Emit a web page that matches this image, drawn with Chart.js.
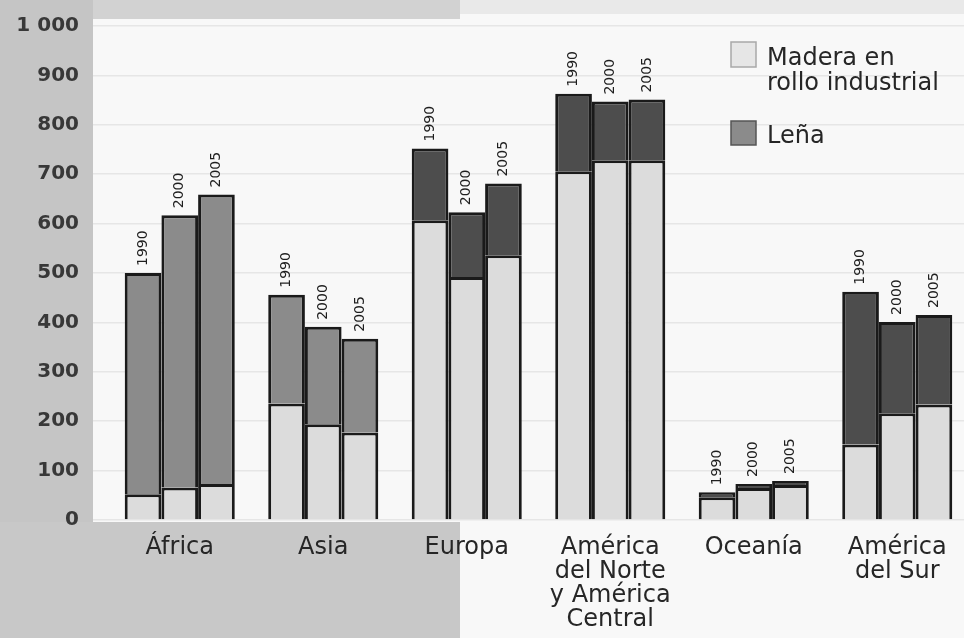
<!DOCTYPE html>
<html>
<head>
<meta charset="utf-8">
<title>Producción de madera por región</title>
<script src="https://cdn.jsdelivr.net/npm/chart.js@4"></script>
<style>
  html, body { margin: 0; padding: 0; overflow: hidden; background: #f8f8f8; }
  #wrap { width: 974px; height: 638px; }
</style>
</head>
<body>
<div id="wrap"><canvas id="chart" width="974" height="638"></canvas></div>
<script>
// Regions (x categories)
const regions = ['África', 'Asia', 'Europa', ['América', 'del Norte', 'y América', 'Central'], 'Oceanía', ['América', 'del Sur']];
const years = ['1990', '2000', '2005'];

// Industrial roundwood (bottom of each stack), millions of m³
const madera1990 = [52, 236, 607, 706, 46, 153];
const madera2000 = [66, 194, 492, 728, 65, 216];
const madera2005 = [73, 177, 536, 728, 71, 234];

// Fuelwood (top of each stack)
const lena1990 = [448, 220, 145, 157, 10, 309];
const lena2000 = [551, 197, 131, 119, 8, 185];
const lena2005 = [586, 190, 145, 123, 8, 181];

const yTickLabels = ['0', '100', '200', '300', '400', '500', '600', '700', '800', '900', '1 000'];
const seriesNames = [['Madera en', 'rollo industrial'], ['Leña']];

const FONT = '"DejaVu Sans", "Liberation Sans", sans-serif';
const colMadera = '#dcdcdc';
const colLenaMid = '#8b8b8b';
const colLenaDark = '#4d4d4d';
const lenaColors = [colLenaMid, colLenaMid, colLenaDark, colLenaDark, colLenaDark, colLenaDark];

const maderaSets = [madera1990, madera2000, madera2005];
const lenaSets = [lena1990, lena2000, lena2005];

const datasets = [];
years.forEach((yr, i) => {
  datasets.push({
    label: seriesNames[0].join(' ') + ' ' + yr,
    data: maderaSets[i],
    stack: 's' + yr,
    backgroundColor: colMadera,
    borderColor: '#1a1a1a',
    borderWidth: 3,
    year: yr,
    part: 'madera'
  });
  datasets.push({
    label: seriesNames[1][0] + ' ' + yr,
    data: lenaSets[i],
    stack: 's' + yr,
    backgroundColor: lenaColors,
    borderColor: '#1a1a1a',
    borderWidth: 3,
    year: yr,
    part: 'lena'
  });
});

// Scanned-page style backdrop: grey margin on the left and below the left half
const backdrop = {
  id: 'backdrop',
  beforeDraw(chart) {
    const ctx = chart.ctx;
    ctx.save();
    ctx.fillStyle = '#f8f8f8';
    ctx.fillRect(0, 0, chart.width, chart.height);
    ctx.fillStyle = '#d2d2d2';
    ctx.fillRect(0, 0, 460, 19);
    ctx.fillStyle = '#e9e9e9';
    ctx.fillRect(460, 0, chart.width - 460, 14);
    ctx.fillStyle = '#c5c5c5';
    ctx.fillRect(0, 0, 93, chart.height);
    ctx.fillStyle = '#c8c8c8';
    ctx.fillRect(0, 522, 460, chart.height - 522);
    ctx.restore();
  }
};

// Year captions written vertically above every stack
const yearLabels = {
  id: 'yearLabels',
  afterDatasetsDraw(chart) {
    const ctx = chart.ctx;
    ctx.save();
    ctx.font = '14px ' + FONT;
    ctx.fillStyle = '#1e1e1e';
    ctx.textAlign = 'left';
    ctx.textBaseline = 'middle';
    chart.data.datasets.forEach((ds, di) => {
      if (ds.part !== 'lena') return;
      const meta = chart.getDatasetMeta(di);
      meta.data.forEach(bar => {
        ctx.save();
        ctx.translate(bar.x, bar.y - 7);
        ctx.rotate(-Math.PI / 2);
        ctx.fillText(ds.year, 0, 0);
        ctx.restore();
      });
    });
    ctx.restore();
  }
};

// Legend box in the upper right
const legendBox = {
  id: 'legendBox',
  afterDraw(chart) {
    const ctx = chart.ctx;
    ctx.save();
    ctx.lineWidth = 1.5;
    ctx.fillStyle = '#e6e6e6';
    ctx.strokeStyle = '#a8a8a8';
    ctx.fillRect(731, 42, 25, 25);
    ctx.strokeRect(731, 42, 25, 25);
    ctx.fillStyle = colLenaMid;
    ctx.strokeStyle = '#555';
    ctx.fillRect(731, 121, 25, 24);
    ctx.strokeRect(731, 121, 25, 24);
    ctx.font = '24px ' + FONT;
    ctx.fillStyle = '#262626';
    ctx.textAlign = 'left';
    ctx.textBaseline = 'alphabetic';
    ctx.fillText(seriesNames[0][0], 767, 65);
    ctx.fillText(seriesNames[0][1], 767, 90);
    ctx.fillText(seriesNames[1][0], 767, 143);
    ctx.restore();
  }
};

new Chart(document.getElementById('chart'), {
  type: 'bar',
  data: { labels: regions, datasets },
  options: {
    responsive: false,
    devicePixelRatio: 1,
    animation: false,
    layout: { padding: { top: 24, right: 5, left: 0, bottom: 0 } },
    datasets: { bar: { barPercentage: 1, categoryPercentage: 0.767 } },
    plugins: { legend: { display: false }, tooltip: { enabled: false } },
    scales: {
      x: {
        stacked: true,
        grid: { display: false },
        border: { display: false },
        afterFit(scale) { scale.height = 118; },
        ticks: {
          font: { family: FONT, size: 24, lineHeight: 1.0 },
          color: '#262626',
          padding: 8,
          maxRotation: 0,
          autoSkip: false
        }
      },
      y: {
        stacked: true,
        min: 0,
        max: 1000,
        afterFit(scale) { scale.width = 108; },
        border: { display: false },
        grid: { color: '#e6e6e6', lineWidth: 1.5, drawTicks: true, tickLength: 15, tickColor: '#e6e6e6' },
        ticks: {
          stepSize: 100,
          font: { family: FONT, size: 20, weight: 'bold' },
          color: '#383838',
          padding: 14,
          callback: (v, i) => yTickLabels[i]
        }
      }
    }
  },
  plugins: [backdrop, yearLabels, legendBox]
});
</script>
</body>
</html>
